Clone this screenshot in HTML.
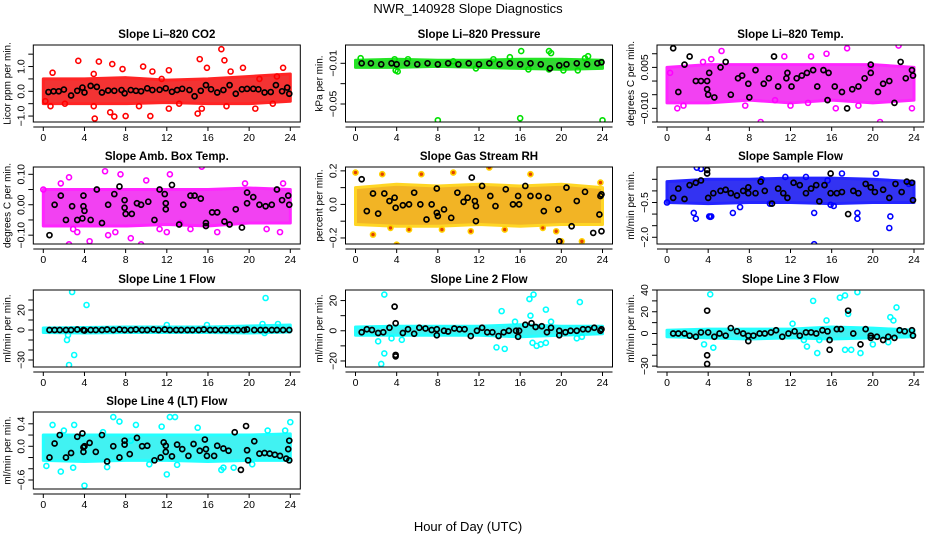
<!DOCTYPE html>
<html><head><meta charset="utf-8">
<style>
html,body{margin:0;padding:0;background:#fff;}
svg{display:block;font-family:"Liberation Sans",sans-serif;}
</style></head>
<body>
<svg id="chart" width="936" height="540" viewBox="0 0 936 540" xmlns="http://www.w3.org/2000/svg">
<text x="468" y="13" font-size="13" text-anchor="middle">NWR_140928  Slope Diagnostics</text>
<text x="468" y="531" font-size="13" text-anchor="middle">Hour of Day (UTC)</text>
</svg>
<script>
const xTicks = [0,4,8,12,16,20,24];
const bandHours = [0,4,8,12,16,20,24];

// CO2
const co2BandLo = [-0.5,-0.5,-0.5,-0.45,-0.5,-0.5,-0.4];
const co2BandHi = [0.5,0.5,0.55,0.45,0.5,0.6,0.7];
const co2Pts = [[3.4,1.23],[5.4,1.2],[6.7,1.1],[7.7,0.9],[9.7,1.0],[10.6,0.8],[12.2,0.85],[15.2,1.3],[15.9,0.95],[17.3,1.7],[17.6,1.25],[18.2,0.8],[19.4,0.95],[23.3,0.95],[5.0,-1.1],[8.0,-1.0],[10.4,-1.0],[12.2,-0.7],[15.0,-0.9],[15.4,-0.7],[20.6,-0.7],[22.3,-0.5],[6.5,-0.85],[2.1,-0.5],[0.9,0.75],[4.9,0.7],[13.2,-0.5],[17.8,-0.6],[4.9,-0.6],[0.2,-0.4],[11.5,0.5],[21.0,0.5],[22.7,0.6],[0.7,-0.6],[6.9,-1.02],[9.3,-0.6]];
const co2Blk = [[0.5,-0.03],[1,0],[1.5,0],[2,0.07],[2.7,-0.17],[3.3,0.02],[3.8,0.15],[4,-0.05],[4.6,0.22],[5.2,0.18],[5.7,-0.05],[6.3,0.03],[6.9,0.02],[7.6,0.05],[7.9,-0.08],[8.5,0.05],[9,0.02],[9.5,0.0],[10.1,0.12],[10.6,0.05],[11.3,0.06],[11.9,0.12],[12.5,-0.02],[13,0.05],[13.5,0.1],[14.2,0.05],[14.7,-0.2],[15.3,0.02],[15.8,0.25],[16.3,0.08],[16.9,-0.05],[17.5,0.05],[18.1,0.25],[18.7,-0.1],[19.3,0.08],[19.8,0.1],[20.4,0.1],[20.9,0.08],[21.5,-0.05],[22.1,-0.03],[22.6,0.25],[23.2,0],[23.7,0.15],[23.9,-0.1]];

// Pressure
const presBandLo = [-0.014,-0.014,-0.013,-0.014,-0.015,-0.016,-0.015];
const presBandHi = [-0.007,-0.006,-0.007,-0.007,-0.006,-0.006,-0.007];
const presPts = [[0.5,-0.005],[3.8,-0.006],[3.9,-0.017],[4.1,-0.018],[8,-0.066],[16,-0.064],[24,-0.066],[16.1,0.002],[18.8,0.002],[19,0],[22.6,-0.003],[15.0,-0.004],[11.7,-0.015],[20.2,-0.017],[16.8,-0.016],[5.1,-0.006],[9.5,-0.008],[13.4,-0.006],[22.3,-0.005],[18.8,-0.016],[21.6,-0.017]];
const presBlk = [[0.6,-0.01],[1.5,-0.01],[2.5,-0.011],[3.5,-0.01],[4,-0.011],[5,-0.01],[6,-0.011],[7,-0.01],[8,-0.011],[9,-0.01],[10,-0.011],[11,-0.01],[12,-0.011],[13,-0.01],[14,-0.011],[15,-0.01],[16,-0.011],[17,-0.01],[18,-0.011],[18.9,-0.015],[19.8,-0.012],[20.5,-0.011],[21.5,-0.01],[22.5,-0.011],[23.5,-0.01],[23.9,-0.009]];

// Li-820 Temp
const tempBandLo = [-0.008,-0.008,-0.007,-0.008,-0.007,-0.008,-0.007];
const tempBandHi = [0.005,0.006,0.006,0.006,0.006,0.006,0.005];
const tempPts = [[1,-0.01],[5.3,0.011],[9.1,-0.015],[17.5,0.012],[22.5,0.013],[20.7,-0.015],[23.8,-0.01],[16.4,-0.01],[7.6,-0.009],[14.0,0.009],[15.5,0.01],[1.6,-0.009],[12,-0.009],[18.6,-0.009],[3.5,0.007],[0.3,0.003],[10.5,-0.007],[19.8,0.005],[13.7,-0.008],[4.3,0.008],[11.4,0.009]];
const tempBlk = [[0.6,0.012],[1.1,-0.004],[1.7,0.006],[2.2,0.009],[2.8,0],[3.3,0],[3.9,0],[3.9,-0.003],[4.0,-0.005],[4.1,0.003],[4.6,-0.006],[5.2,0.005],[5.7,0.007],[6.2,-0.005],[6.9,0.001],[7.3,0.002],[7.9,-0.001],[8.0,-0.006],[8.6,0.004],[9.4,-0.001],[9.9,0.001],[10.4,0.009],[10.8,-0.002],[11.6,0.001],[11.7,0.003],[12.1,-0.002],[12.6,0.001],[13.1,0.002],[13.6,0.003],[14.2,0.004],[14.6,-0.002],[15.2,0.004],[15.6,-0.007],[15.7,0.003],[16.3,-0.002],[17,-0.004],[17.5,-0.01],[18.0,-0.003],[18.6,-0.002],[19.2,0.001],[19.8,0.006],[19.8,0.003],[20.5,-0.004],[21,-0.001],[21.6,0],[22.1,-0.008],[22.7,0.007],[23.2,0.001],[23.8,0.004],[23.9,0.002]];

// Amb box temp
const ambBandLo = [-0.07,-0.07,-0.07,-0.065,-0.07,-0.06,-0.06];
const ambBandHi = [0.05,0.05,0.05,0.05,0.05,0.055,0.05];
const ambPts = [[0,0.05],[2.5,0.09],[3.3,-0.09],[4.5,-0.12],[6,0.11],[7.5,0.1],[9.5,-0.13],[12.3,0.1],[15.4,0.125],[12,-0.09],[16.9,-0.09],[21.7,-0.08],[23,-0.09],[2.5,-0.13],[8.5,-0.11],[19.6,0.07],[1.7,0.07],[23.3,0.07],[2.9,-0.08],[10,0.08],[13.3,-0.06],[6.3,-0.1],[11.3,-0.08],[7.0,-0.09],[14.3,-0.08]];
const ambBlk = [[0.6,-0.1],[1.1,0],[1.7,0.03],[2.2,-0.05],[2.8,-0.005],[3.3,-0.05],[3.8,-0.045],[3.9,0.03],[3.9,-0.005],[4,-0.02],[4.6,-0.05],[5.2,0.05],[5.7,-0.06],[6.3,0],[6.9,0.035],[7.4,0.06],[7.9,0.015],[7.9,-0.01],[8.0,-0.03],[8.6,-0.03],[9.1,0.005],[9.5,0],[10.2,0.01],[10.8,-0.05],[11.3,0.05],[11.8,0.035],[11.9,0.005],[11.9,-0.015],[12.5,0.065],[13.2,-0.065],[13.6,0],[14.3,0.03],[14.7,0.03],[15.3,0.02],[15.8,-0.06],[15.8,-0.07],[16.4,-0.025],[16.9,-0.025],[17.6,-0.055],[18.1,-0.065],[18.7,-0.015],[19.3,-0.075],[19.8,0.04],[19.8,0.005],[20.4,0.025],[21.0,0],[21.6,-0.005],[22.2,0],[22.7,0.05],[23.2,0.015],[23.8,0.03],[23.9,0]];

// Gas stream RH
const rhBandLo = [-0.12,-0.13,-0.13,-0.12,-0.13,-0.12,-0.12];
const rhBandHi = [0.1,0.12,0.11,0.12,0.11,0.12,0.1];
const rhPts = [[0,0.19],[2.6,0.18],[4.0,-0.24],[1.7,-0.18],[9.5,0.19],[13,0.22],[17,0.18],[20,-0.22],[22,-0.22],[5.2,-0.15],[11.2,-0.16],[19.5,-0.16],[14.5,-0.15],[3.4,-0.14],[8.4,-0.15],[6.4,0.18],[18.2,-0.14],[23.8,0.13]];
const rhBlk = [[0.6,0.15],[1.1,-0.04],[1.7,0.065],[2.2,-0.055],[2.8,0.065],[3.3,0.02],[3.8,0.04],[3.9,-0.02],[4.6,-0.005],[5.2,0.0],[5.7,0.07],[6.3,0],[6.9,-0.09],[7.4,0],[7.9,0.095],[7.9,-0.05],[8.0,-0.07],[8.6,-0.03],[9.3,-0.08],[9.9,0.07],[10.5,0.015],[10.9,0.04],[11.3,0.16],[11.6,0.02],[11.7,-0.01],[11.7,-0.1],[12.3,0.11],[13.1,0.05],[13.6,-0.01],[14.6,0.09],[15.3,0],[15.8,0.05],[15.9,0],[16.5,0.11],[17,0.05],[17.8,0.05],[18.3,-0.04],[18.7,0.04],[19.7,-0.03],[19.8,-0.22],[20.5,0.1],[21.0,-0.13],[21.5,0.02],[22.3,0.075],[23.1,-0.17],[23.7,-0.06],[23.8,0.05],[23.9,-0.16],[23.9,0.06]];

// Sample flow
const sfBandLo = [-0.5,-0.55,-0.5,-0.5,-0.55,-0.5,-0.5];
const sfBandHi = [0.4,0.5,0.5,0.55,0.55,0.5,0.4];
const sfPts = [[0,-0.5],[2.9,1.0],[3.3,0.95],[2.6,-0.95],[2.8,-1.2],[4.3,-1.1],[6.4,-0.95],[7.1,-0.7],[10.0,-0.55],[14.3,-2.3],[14.3,-0.95],[15.9,-0.6],[16.2,-0.65],[17,0.75],[18.5,-0.95],[18.5,-1.2],[21.6,-1.6],[21.7,-1.1],[20.3,0.75],[11.5,0.6],[9.2,0.5],[13.5,0.6],[15.6,0.45],[23.5,0.3],[4.1,-1.1],[4.2,-1.12]];
const sfBlk = [[0.6,-0.3],[1.1,0.1],[1.7,-0.35],[2.2,0.25],[2.8,0.35],[3.3,0.45],[3.9,0.9],[3.9,0.75],[4.0,-0.3],[4.5,-0.1],[5.2,0],[5.7,0.05],[6.2,-0.1],[6.8,-0.2],[7.4,0],[7.9,0.15],[7.9,-0.1],[8.6,-0.1],[9.1,0.4],[9.5,0],[10.2,-0.55],[10.8,0.1],[11.3,-0.1],[11.7,-0.3],[12.3,0.35],[12.9,0.25],[13.5,-0.1],[14.0,0.1],[14.5,0.25],[14.8,-0.45],[15.3,0.25],[15.9,0.75],[15.9,-0.1],[16.5,-0.1],[17,-0.05],[17.6,-1.0],[18.1,0],[18.6,-0.1],[19.3,0.3],[19.8,0.15],[20.2,-0.05],[21,0.05],[21.6,-0.3],[22.2,0.3],[22.8,-0.05],[23.3,0.4],[23.8,0.35],[23.9,-0.4]];

// Line 1 flow
const l1BandLo = [-2.5,-3,-2.5,-2.5,-2.5,-3,-2];
const l1BandHi = [2,2.5,3,3,3,4,5];
const l1Pts = [[2.8,38],[4.2,25],[2.5,-35],[3.0,-25],[2.3,-10],[2.4,-5],[21.6,32],[12.0,5],[15.9,5],[21.5,-3],[22.8,6],[21.3,6]];
const l1Blk = [[0.6,0],[1.1,0],[1.6,0],[2.2,0],[2.7,0],[3.3,0.5],[3.9,0],[4.0,-0.5],[4.6,0],[5.1,0],[5.7,0],[6.2,0.5],[6.8,0],[7.4,0.5],[7.9,0],[8.5,0],[9.0,0.5],[9.6,0],[10.1,0],[10.7,0.5],[11.2,0],[11.8,0.5],[12.3,0],[12.9,0],[13.4,0],[14.0,0],[14.5,0],[15.1,0],[15.6,0.5],[16.2,0],[16.7,0],[17.3,0],[17.8,0],[18.4,0],[18.9,0],[19.5,0],[19.8,0.5],[20.5,0],[21.1,0],[21.6,0],[22.2,0],[22.7,0],[23.3,0],[23.9,0]];

// Line 2 flow
const l2BandLo = [-3,-3,-3,-3,-4,-3,-2];
const l2BandHi = [2.5,3,3,3,4,3,3];
const l2Pts = [[2.8,24],[2.5,-22],[2.8,-15],[2.2,-7],[3.5,-5],[4.5,-6],[14.2,13],[13.7,-11],[14.5,-12],[16.9,21],[17.3,24],[17,10],[18.5,14],[17.2,-8],[17.6,-10],[18.0,-9],[18.5,-8],[21.8,19],[22,-4],[15.5,6],[19,6],[21.5,-5]];
const l2Blk = [[0.6,-1],[1.1,1],[1.6,0.5],[2.2,-1.5],[2.7,-1],[3.3,2],[3.8,16],[3.9,5],[3.9,-16],[3.9,-17],[4.6,-1.5],[5.1,1],[5.7,-2],[6.2,2],[6.8,1.5],[7.4,0.5],[7.9,1],[7.9,-3],[8.6,0],[9.0,-0.5],[9.6,1.5],[10.1,1],[10.6,1],[11.2,-3.5],[11.8,0],[12.3,2],[12.8,-1],[13.3,-1],[13.9,-3.5],[14.4,-1],[14.9,0],[15.6,0],[15.8,-4],[15.9,0],[16.5,4],[17.1,5],[17.5,2.5],[18.1,3],[18.6,-1],[19,2],[19.8,-3],[19.8,0],[20.4,-1],[20.9,0],[21.5,0],[22.1,1],[22.6,1],[23.2,2],[23.8,0],[23.9,1]];

// Line 3 flow
const l3BandLo = [-3,-4,-5,-4,-5,-4,-3];
const l3BandHi = [3,4,4,4,6,5,3];
const l3Pts = [[3.6,-10],[4.2,36],[4.5,-13],[14.2,30],[13.6,-12],[14.6,-18],[16.8,33],[17.3,35],[17.6,18],[18.5,38],[17.3,-15],[17.9,-15],[18.8,-18],[21.7,15],[22,12],[22.3,24],[15.5,12],[12.2,9],[21.5,-8],[20,-10],[13.3,-6],[14.8,-6]];
const l3Blk = [[0.6,0],[1.1,0],[1.7,0],[2.2,-2],[2.8,-3],[3.3,1],[3.9,21],[3.9,-20],[3.9,-28],[4.0,1],[4.6,-3],[5.1,0],[5.7,-2],[6.2,5],[6.8,2],[7.4,0],[7.9,-2],[7.9,-7],[8.4,-2],[9.0,0],[9.5,0],[10.1,1],[10.6,3],[11.2,-3],[11.8,0],[12.4,2],[12.9,-2],[13.5,1],[14.0,1],[14.5,0],[15.1,3],[15.6,2],[15.8,-6],[15.8,-15],[16.5,4],[16.9,4],[17.6,21],[18.1,0],[18.8,-10],[19.3,4],[19.8,-2],[19.8,-4],[20.4,-3],[21,-6],[21.5,-3],[22.1,-4],[22.6,3],[23.1,2],[23.8,3],[23.9,-2]];

// Line 4 flow
const l4BandLo = [-0.25,-0.27,-0.25,-0.25,-0.27,-0.25,-0.25];
const l4BandHi = [0.2,0.2,0.2,0.2,0.2,0.2,0.22];
const l4Pts = [[0.3,-0.35],[0.9,0.38],[1.7,-0.45],[2.9,-0.38],[3.0,0.38],[4.0,-0.7],[6.8,0.52],[7.4,0.44],[8.5,0.1],[9,0.38],[10.3,-0.32],[11.5,0.35],[12,-0.5],[12.3,0.52],[12.8,0.52],[13,-0.33],[15,0.33],[17.3,-0.42],[17.5,-0.38],[18.5,-0.38],[20.3,-0.32],[21.8,0.28],[23.5,0.28],[24,0.43],[2,0.28],[5.8,0.25],[6.2,-0.37]];
const l4Blk = [[0.6,-0.2],[1.1,0.05],[1.6,0.2],[2.2,-0.2],[2.7,-0.12],[3.3,0.17],[3.8,0.23],[3.9,-0.02],[3.9,-0.1],[4.0,0],[4.5,0.06],[5.1,-0.1],[5.7,0.2],[6.2,-0.27],[6.8,0],[7.4,-0.2],[7.9,0.1],[7.9,0.03],[8.4,-0.14],[9.1,0.15],[9.6,0],[10.1,0.01],[10.8,-0.25],[11.4,-0.2],[11.7,0.07],[11.9,0.01],[11.9,-0.1],[12.5,-0.18],[13,0.03],[13.5,-0.05],[14.1,-0.17],[14.6,0.04],[15.2,-0.08],[15.7,0.12],[15.8,-0.05],[15.9,-0.17],[16.6,-0.17],[16.9,0.01],[17.5,-0.04],[18.0,-0.08],[18.6,0.25],[19.2,-0.42],[19.7,0.36],[19.8,-0.07],[19.9,-0.25],[20.5,0.09],[21.0,-0.13],[21.5,-0.12],[22,-0.13],[22.5,-0.15],[23,-0.17],[23.6,-0.22],[23.9,0.1],[23.9,-0.25],[23.8,-0.05]];

const panels = [
 {name:'co2', title:'Slope Li\u2013820 CO2', ylab:'Licor ppm per min.', col:0,row:0, ymin:-1.24,ymax:1.87, ticks:[-1,-0.5,0,0.5,1,1.5], labels:[[-1,'\u22121.0'],[0,'0.0'],[1,'1.0']], color:'#ff0000', fill:'#f21010', lo:co2BandLo, hi:co2BandHi, pts:co2Pts, blk:co2Blk},
 {name:'pressure', title:'Slope Li\u2013820 Pressure', ylab:'kPa per min.', col:1,row:0, ymin:-0.0677,ymax:0.008, ticks:[0.01,-0.01,-0.03,-0.05], labels:[[-0.01,'\u22120.01'],[-0.05,'\u22120.05']], color:'#00e000', fill:'#10d010', lo:presBandLo, hi:presBandHi, pts:presPts, blk:presBlk},
 {name:'li820-temp', title:'Slope Li\u2013820 Temp.', ylab:'degrees C per min.', col:2,row:0, ymin:-0.015,ymax:0.0132, ticks:[0.01,0.005,0,-0.005,-0.01,-0.015], labels:[[0.005,'0.005'],[-0.01,'\u22120.010']], color:'#ff00ff', fill:'#f020f0', lo:tempBandLo, hi:tempBandHi, pts:tempPts, blk:tempBlk},
 {name:'amb-box-temp', title:'Slope Amb. Box Temp.', ylab:'degrees C per min.', col:0,row:1, ymin:-0.129,ymax:0.124, ticks:[-0.1,-0.05,0,0.05,0.1], labels:[[-0.1,'\u22120.10'],[0,'0.00'],[0.1,'0.10']], color:'#ff00ff', fill:'#f020f0', lo:ambBandLo, hi:ambBandHi, pts:ambPts, blk:ambBlk},
 {name:'gas-stream-rh', title:'Slope Gas Stream RH', ylab:'percent per min.', col:1,row:1, ymin:-0.236,ymax:0.223, ticks:[-0.2,-0.1,0,0.1,0.2], labels:[[-0.2,'\u22120.2'],[0,'0.0'],[0.2,'0.2']], color:'#ffd000', fill:'#f0a800', lo:rhBandLo, hi:rhBandHi, pts:rhPts, blk:rhBlk},
 {name:'sample-flow', title:'Slope Sample Flow', ylab:'ml/min per min.', col:2,row:1, ymin:-2.29,ymax:1.03, ticks:[0.5,0,-0.5,-1,-1.5,-2], labels:[[-0.5,'\u22120.5'],[-2,'\u22122.0']], color:'#0000ff', fill:'#1010f0', lo:sfBandLo, hi:sfBandHi, pts:sfPts, blk:sfBlk},
 {name:'line1-flow', title:'Slope Line 1 Flow', ylab:'ml/min per min.', col:0,row:2, ymin:-37,ymax:40, ticks:[-30,-20,-10,0,10,20,30], labels:[[-30,'\u221230'],[0,'0'],[20,'20']], color:'#00ffff', fill:'#20f0f0', lo:l1BandLo, hi:l1BandHi, pts:l1Pts, blk:l1Blk},
 {name:'line2-flow', title:'Slope Line 2 Flow', ylab:'ml/min per min.', col:1,row:2, ymin:-24,ymax:27, ticks:[-20,-10,0,10,20], labels:[[-20,'\u221220'],[0,'0'],[20,'20']], color:'#00ffff', fill:'#20f0f0', lo:l2BandLo, hi:l2BandHi, pts:l2Pts, blk:l2Blk},
 {name:'line3-flow', title:'Slope Line 3 Flow', ylab:'ml/min per min.', col:2,row:2, ymin:-30.8,ymax:40, ticks:[-30,-20,-10,0,10,20,30,40], labels:[[-30,'\u221230'],[0,'0'],[20,'20'],[40,'40']], color:'#00ffff', fill:'#20f0f0', lo:l3BandLo, hi:l3BandHi, pts:l3Pts, blk:l3Blk},
 {name:'line4-flow', title:'Slope Line 4 (LT) Flow', ylab:'ml/min per min.', col:0,row:3, ymin:-0.76,ymax:0.61, ticks:[-0.6,-0.4,-0.2,0,0.2,0.4], labels:[[-0.6,'\u22120.6'],[0,'0.0'],[0.4,'0.4']], color:'#00ffff', fill:'#20f0f0', lo:l4BandLo, hi:l4BandHi, pts:l4Pts, blk:l4Blk}
];

const colX0 = [43.3, 355.5, 667];
const hourSpan = 247;
const rowTop = [45, 167, 290, 412];
const rowH = 77;
const NS = 'http://www.w3.org/2000/svg';
const svg = document.getElementById('chart');
function mk(tag, attrs, parent){
  const e = document.createElementNS(NS, tag);
  for (const k in attrs) e.setAttribute(k, attrs[k]);
  parent.appendChild(e);
  return e;
}
panels.forEach(p => {
  const x0 = colX0[p.col];
  const top = rowTop[p.row], bot = top + rowH;
  const left = x0 - 10, right = x0 + hourSpan + 10;
  const xs = h => x0 + h * hourSpan / 24;
  const ys = v => bot - (v - p.ymin) / (p.ymax - p.ymin) * rowH;
  const g = mk('g', {}, svg);
  
  
  const t = mk('text', {x:(left+right)/2, y: top-7, 'font-size':'11.5', 'font-weight':'bold', 'text-anchor':'middle'}, g);
  t.textContent = p.title;
  
  
  const cid = 'clip-' + p.name;
  const cp = mk('clipPath', {id: cid}, g);
  mk('rect', {x:left, y:top, width:right-left, height:rowH}, cp);
  const pg = mk('g', {'clip-path':'url(#' + cid + ')'}, g);
  let d = '';
  bandHours.forEach((h,i) => { d += (i ? 'L' : 'M') + xs(h) + ',' + ys(p.hi[i]); });
  for (let i = bandHours.length-1; i >= 0; i--) d += 'L' + xs(bandHours[i]) + ',' + ys(p.lo[i]);
  const band = mk('path', {d: d + 'Z', fill: p.fill, stroke: p.color, 'stroke-width': 3, 'stroke-linejoin':'round', opacity: 0.85}, pg);
  
  
  p.pts.forEach(pt => {
    const c = mk('circle', {cx: xs(pt[0]), cy: ys(pt[1]), r: 2.5, fill: p.name==='gas-stream-rh' ? '#e04000' : 'none', stroke: p.color, 'stroke-width': 1.6}, pg);
    
    
  });
  p.blk.forEach(pt => {
    const c = mk('circle', {cx: xs(pt[0]), cy: ys(pt[1]), r: 2.5, fill: 'none', stroke: '#000', 'stroke-width': 1.7}, pg);
    
    
  });
  const box = mk('rect', {x:left, y:top, width:right-left, height:rowH, fill:'none', stroke:'#000', 'stroke-width':1}, g);
  
  
  const ax = mk('g', {}, g);
  
  
  mk('line', {x1:left, x2:right, y1:bot+5, y2:bot+5, stroke:'#000'}, ax);
  xTicks.forEach(h => {
    mk('line', {x1:xs(h), x2:xs(h), y1:bot+5, y2:bot+9, stroke:'#000'}, ax);
    const l = mk('text', {x:xs(h), y:bot+19, 'font-size':'10.5', 'text-anchor':'middle'}, ax);
    l.textContent = h;
    
    
  });
  const ay = mk('g', {}, g);
  
  
  p.ticks.forEach(v => {
    const y = ys(v);
    if (y < top-1 || y > bot+1) return;
    mk('line', {x1:left-5, x2:left, y1:y, y2:y, stroke:'#000'}, ay);
  });
  p.labels.forEach(lb => {
    const y = ys(lb[0]);
    const l = mk('text', {x:0, y:0, 'font-size':'10.5', 'text-anchor':'middle', transform:'translate(' + (left-9) + ',' + y + ') rotate(-90)'}, ay);
    l.textContent = lb[1];
    
    
  });
  const yl = mk('text', {x:0, y:0, 'font-size':'10', 'text-anchor':'middle', transform:'translate(' + (left-23) + ',' + ((top+bot)/2) + ') rotate(-90)'}, g);
  yl.textContent = p.ylab;
  
  
});
</script>
</body></html>
